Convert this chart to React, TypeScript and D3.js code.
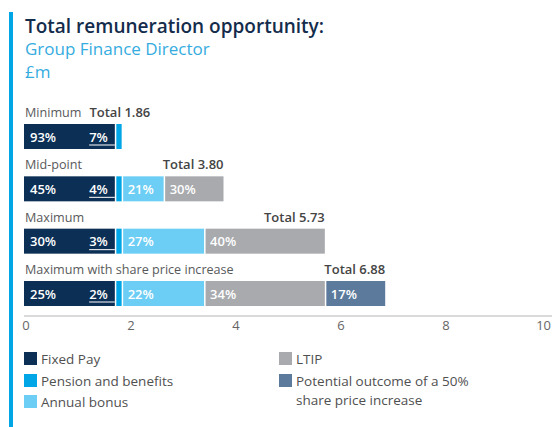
import React, { useEffect, useRef } from 'react'
import * as d3 from 'd3'

// scenarios, top to bottom
const scenarios = ['Minimum', 'Mid-point', 'Maximum', 'Maximum with share price increase']
const totals = [1.86, 3.8, 5.73, 6.88]

// £m per element
const fixedPay = [1.73, 1.73, 1.73, 1.73]
const pension = [0.13, 0.13, 0.13, 0.13]
const annualBonus = [0, 0.8, 1.57, 1.57]
const ltip = [0, 1.14, 2.3, 2.3]
const sharePrice = [0, 0, 0, 1.15]

// printed percentages per segment
const pctLabels = [
  ['93%', '7%'],
  ['45%', '4%', '21%', '30%'],
  ['30%', '3%', '27%', '40%'],
  ['25%', '2%', '22%', '34%', '17%'],
]

const xTicks = [0, 2, 4, 6, 8, 10]

const seriesNames = ['Fixed Pay', 'Pension and benefits', 'Annual bonus', 'LTIP', 'Potential outcome of a 50% share price increase']
const colors = ['#0c2f56', '#00a6e6', '#6dcef5', '#a8aaad', '#5c7b9c']

const FONT = "'Open Sans', sans-serif"

const App = () => {
  const ref = useRef<SVGSVGElement>(null)

  useEffect(() => {
    const svg = d3.select(ref.current)
    svg.selectAll('*').remove()

    const x = d3.scaleLinear().domain([0, 10]).range([24, 549])
    const y = d3.scalePoint().domain(scenarios).range([124, 281])
    const barH = 25

    // accent bar + titles
    svg.append('rect').attr('x', 9).attr('y', 12).attr('width', 4).attr('height', 415).attr('fill', '#00a6e6')
    svg.append('text').attr('x', 25).attr('y', 33).text('Total remuneration opportunity:')
      .style('font', `600 19px ${FONT}`).attr('fill', '#142c4c')
    svg.append('text').attr('x', 25).attr('y', 55).text('Group Finance Director')
      .style('font', `400 17px ${FONT}`).attr('fill', '#35ace0')
    svg.append('text').attr('x', 25).attr('y', 78).text('£m')
      .style('font', `400 17px ${FONT}`).attr('fill', '#35ace0')

    const series = [fixedPay, pension, annualBonus, ltip, sharePrice]

    scenarios.forEach((s, i) => {
      const top = y(s) as number
      const g = svg.append('g')
      let acc = 0
      const segs = series.map((arr, k) => {
        const start = acc
        acc += arr[i]
        return { k, start, end: acc, v: arr[i] }
      }).filter(d => d.v > 0)

      g.selectAll('rect').data(segs).enter().append('rect')
        .attr('x', d => x(d.start) + (d.k === 0 ? 0 : 1.5))
        .attr('y', top)
        .attr('width', d => x(d.end) - x(d.start) - (d.k === 0 ? 0 : 1.5))
        .attr('height', barH)
        .attr('fill', d => colors[d.k])

      // percentage labels
      segs.forEach((d, j) => {
        const lab = pctLabels[i][j]
        const t = g.append('text').attr('y', top + 17.5).text(lab)
          .style('font', `600 13px ${FONT}`).attr('fill', '#fff')
        if (d.k === 1) {
          const fx = x(segs[0].end)
          t.attr('x', fx - 7).attr('text-anchor', 'end')
          const w = (t.node() as SVGTextElement).getComputedTextLength()
          g.append('line').attr('x1', fx - 7 - w).attr('x2', fx)
            .attr('y1', top + 21).attr('y2', top + 21)
            .attr('stroke', '#fff').attr('stroke-width', 1)
        } else {
          t.attr('x', x(d.start) + 6)
        }
      })

      // scenario name and total
      const cat = svg.append('text').attr('x', 25).attr('y', top - 7).text(s)
        .style('font', `400 12.6px ${FONT}`).attr('fill', '#58595b')
      const catEnd = 25 + (cat.node() as SVGTextElement).getComputedTextLength()
      const tot = svg.append('text').attr('y', top - 7).text(`Total ${totals[i].toFixed(2)}`)
        .style('font', `600 13px ${FONT}`).attr('fill', '#444')
        .attr('text-anchor', 'end')
      const tw = (tot.node() as SVGTextElement).getComputedTextLength()
      tot.attr('x', Math.max(x(totals[i]), catEnd + 8 + tw))
    })

    // axis
    const axis = svg.append('g').attr('transform', 'translate(0,316)')
    axis.append('line').attr('x1', x(0)).attr('x2', 552).attr('stroke', '#b5b5b5').attr('stroke-width', 1)
    axis.selectAll('text.tick').data(xTicks).enter().append('text')
      .attr('class', 'tick')
      .attr('y', 14)
      .attr('text-anchor', 'middle')
      .text(d => d)
      .style('font', `400 13px ${FONT}`).attr('fill', '#666')
      .attr('x', function (d) {
        const w = (this as SVGTextElement).getComputedTextLength()
        return Math.min(x(d) + 2, 551 - w / 2)
      })

    // legend
    const legend = [
      { k: 0, x: 24, y: 352 },
      { k: 1, x: 24, y: 374 },
      { k: 2, x: 24, y: 395 },
      { k: 3, x: 279, y: 352 },
      { k: 4, x: 279, y: 374 },
    ]
    legend.forEach(l => {
      svg.append('rect').attr('x', l.x).attr('y', l.y).attr('width', 13).attr('height', 13).attr('fill', colors[l.k])
      const lines = l.k === 4 ? ['Potential outcome of a 50%', 'share price increase'] : [seriesNames[l.k]]
      lines.forEach((ln, m) => {
        svg.append('text').attr('x', l.x + 17).attr('y', l.y + 12 + m * 19).text(ln)
          .style('font', `400 13.5px ${FONT}`).attr('fill', '#505050')
      })
    })
  }, [])

  return (
    <svg ref={ref} width={552} height={427}
      style={{ position: 'absolute', left: 0, top: 0, display: 'block', background: '#fff' }} />
  )
}

export default App
